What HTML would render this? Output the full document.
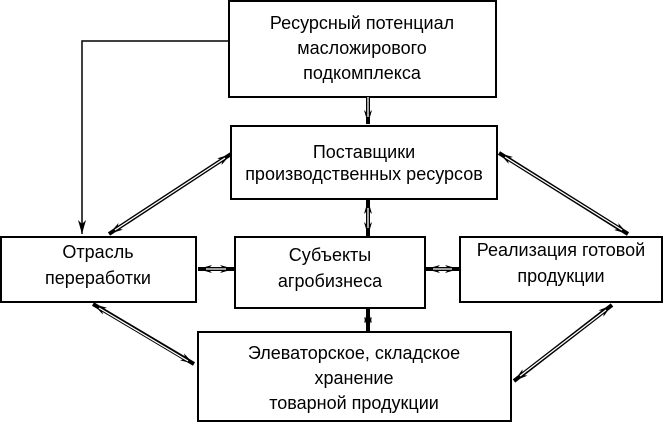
<!DOCTYPE html><html><head><meta charset="utf-8"><style>
body{margin:0;background:#fff}
svg{display:block}
text{font-family:"Liberation Sans",sans-serif;font-size:18px;fill:#000;text-anchor:middle}
</style></head><body>
<svg width="663" height="423" viewBox="0 0 663 423">
<defs>
<marker id="h" viewBox="0 0 14 8" refX="14" refY="4" markerWidth="14" markerHeight="8" orient="auto-start-reverse" markerUnits="userSpaceOnUse"><path d="M0,0 L14,4 L0,8 L4,4 z" fill="#000"/></marker>
</defs>
<g fill="none" stroke="#000" stroke-width="2">
<rect x="229" y="1" width="267" height="96"/>
<rect x="231" y="126" width="266" height="73"/>
<rect x="1" y="237" width="195" height="65"/>
<rect x="235" y="237" width="190" height="71"/>
<rect x="460" y="237" width="202" height="65"/>
<rect x="198" y="332" width="313" height="89"/>
</g>
<g fill="none" stroke="#000" stroke-width="1.5">
<polyline points="229,41 82,41 82,234" marker-end="url(#h)"/>
</g>
<g fill="none" stroke-linecap="butt">
<g stroke="#000" stroke-width="4" marker-end="url(#h)">
<line x1="368" y1="97" x2="368" y2="124"/>
</g>
<g stroke="#000" stroke-width="4" marker-start="url(#h)" marker-end="url(#h)">
<line x1="109" y1="234" x2="231" y2="154"/>
<line x1="499" y1="153" x2="628" y2="234"/>
<line x1="612" y1="305" x2="514" y2="381"/>
<line x1="93" y1="304" x2="194" y2="364"/>
<line x1="198" y1="269" x2="234" y2="269"/>
<line x1="426" y1="269" x2="459" y2="269"/>
<line x1="368" y1="200" x2="368" y2="236"/>
<line x1="368" y1="309" x2="368" y2="331"/>
</g>
<g stroke="#fff" stroke-width="1.3">
<line x1="368" y1="97" x2="368" y2="117"/>
<line x1="115" y1="230" x2="225" y2="158"/>
<line x1="505" y1="157" x2="622" y2="230"/>
<line x1="606" y1="310" x2="520" y2="376"/>
<line x1="99" y1="308" x2="188" y2="361"/>
<line x1="206" y1="269" x2="226" y2="269"/>
<line x1="433" y1="269" x2="452" y2="269"/>
<line x1="368" y1="208" x2="368" y2="228"/>
</g>
</g>
<text x="362" y="29">Ресурсный потенциал</text>
<text x="362" y="54">масложирового</text>
<text x="362" y="79">подкомплекса</text>
<text x="364" y="158">Поставщики</text>
<text x="364" y="180">производственных ресурсов</text>
<text x="98" y="258">Отрасль</text>
<text x="98" y="284">переработки</text>
<text x="330" y="261">Субъекты</text>
<text x="330" y="287">агробизнеса</text>
<text x="561" y="256">Реализация готовой</text>
<text x="561" y="282">продукции</text>
<text x="354" y="359">Элеваторское, складское</text>
<text x="354" y="384">хранение</text>
<text x="354" y="409">товарной продукции</text>
</svg>
</body></html>
